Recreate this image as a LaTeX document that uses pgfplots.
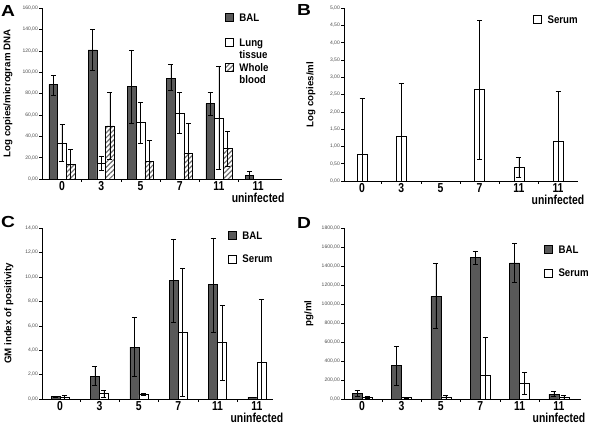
\documentclass[border=0pt]{standalone}
\usepackage{fontspec}
\setmainfont{Liberation Sans}
\newfontfamily\condfont[FakeStretch=0.8]{Liberation Sans}
\newfontfamily\legfont[FakeStretch=0.88]{Liberation Sans}
\newfontfamily\letterfont[FakeStretch=1.2]{Liberation Sans}
\usepackage{pgfplots}
\pgfplotsset{compat=1.18}
\usetikzlibrary{patterns.meta}

\pgfplotsset{
  panel/.style={
    scale only axis,
    anchor=south west,
    axis lines*=left,
    axis line style={black, line width=0.5pt},
    ymin=0,
    xtick={0,...,5},
    xticklabels={0,3,5,7,11,{11\\uninfected}},
    xticklabel style={align=center, font=\condfont\bfseries\fontsize{13}{12}\selectfont, inner sep=0pt, yshift=0.5pt},
    major x tick style={draw=none},
    minor xtick={0.5,1.5,2.5,3.5,4.5},
    minor x tick style={black, line width=0.4pt},
    minor tick length=3pt,
    tick align=outside,
    major tick length=3pt,
    y tick style={black, line width=0.4pt},
    yticklabel style={font=\fontsize{5}{6}\selectfont, color=black!70, inner sep=1pt},
    /pgf/number format/fixed,
    /pgf/number format/fixed zerofill,
    /pgf/number format/precision=2,
    /pgf/number format/use comma,
    /pgf/number format/1000 sep={},
    /pgf/number format/assume math mode=true,
    ylabel style={font=\bfseries\fontsize{9.7}{11}\selectfont, anchor=center},
    ybar=0pt,
    error bars/y dir=both,
    error bars/y explicit,
    error bars/error bar style={black, line width=0.5pt},
    error bars/error mark options={rotate=90, mark size=2.5pt, black, line width=0.5pt},
    legend style={draw=none, fill=none, inner sep=0pt, outer sep=0pt, anchor=north west,
      font=\legfont\bfseries\fontsize{11}{12.5}\selectfont, row sep=16.5pt, column sep=6pt,
      nodes={inner sep=0pt, text height=8pt, text depth=0pt},
      cells={anchor=base west}},
    legend image code/.code={\draw[#1] (0pt,0pt) rectangle (8pt,8pt);},
  },
  bal/.style={fill=black!65, draw=black, line width=0.5pt},
  wbar/.style={fill=white, draw=black, line width=0.5pt},
  hatch/.style={fill=white, draw=black, line width=0.5pt,
    postaction={pattern={Lines[angle=45,distance=3.5pt,line width=1.2pt]}, pattern color=black!55}},
}

\begin{document}
\begin{tikzpicture}
\useasboundingbox (0,0) rectangle (592pt,427pt);

% Panel A
\begin{axis}[panel, at={(42pt,248pt)}, width=240pt, height=171pt,
  xmin=-0.51, xmax=5.61, ymax=160, ytick={0,20,...,160}, bar width=8.7pt,
  ylabel={Log copies/microgram DNA},
  ylabel style={at={(axis description cs:-0.142,0.5)}},
  legend style={at={(axis description cs:0.7625,0.971)}}]
\addplot[bal] coordinates {
  (0,88.5) += (0,8.5) -= (0,9.9)
  (1,120.8) += (0,19.2) -= (0,19.4)
  (2,86.6) += (0,34.2) -= (0,34.2)
  (3,94.3) += (0,12.7) -= (0,11.4)
  (4,70.6) += (0,10.2) -= (0,10.8)
  (5,3.4) += (0,4.3) -= (0,3.4)
};
\addlegendentry{BAL}
\addplot[wbar] coordinates {
  (0,33.9) += (0,17.0) -= (0,16.9)
  (1,14.5) += (0,7.1) -= (0,6.5)
  (2,53.0) += (0,18.5) -= (0,19.4)
  (3,61.7) += (0,19.1) -= (0,18.9)
  (4,57.0) += (0,48.4) -= (0,48.0)
};
\addlegendentry{\begin{tabular}[t]{@{}l@{}}Lung\\tissue\end{tabular}}
\addplot[hatch] coordinates {
  (0,13.6) += (0,14.4) -= (0,13.6)
  (1,49.6) += (0,31.2) -= (0,31.4)
  (2,16.3) += (0,19.5) -= (0,16.3)
  (3,23.7) += (0,28.7) -= (0,23.7)
  (4,28.4) += (0,16.3) -= (0,16.1)
};
\addlegendentry{\begin{tabular}[t]{@{}l@{}}Whole\\blood\end{tabular}}
\end{axis}

% Panel B
\begin{axis}[panel, at={(344pt,246pt)}, width=234pt, height=173pt,
  xmin=-0.46, xmax=5.51, ymax=5, ytick={0,0.5,...,5}, bar width=10pt,
  ylabel={Log copies/ml},
  ylabel style={at={(axis description cs:-0.141,0.5)}},
  legend style={at={(axis description cs:0.808,0.96)}}]
\addplot[wbar] coordinates {
  (0,0.77) += (0,1.62) -= (0,0.77)
  (1,1.30) += (0,1.53) -= (0,1.30)
  (3,2.64) += (0,2.00) -= (0,2.00)
  (4,0.40) += (0,0.30) -= (0,0.30)
  (5,1.14) += (0,1.45) -= (0,1.14)
};
\addlegendentry{Serum}
\end{axis}

% Panel C
\begin{axis}[panel, at={(42pt,28pt)}, width=231pt, height=171pt,
  xmin=-0.46, xmax=5.41, ymax=14, ytick={0,2,...,14}, bar width=9pt,
  ylabel={GM index of positivity},
  ylabel style={at={(axis description cs:-0.143,0.5)}},
  legend style={at={(axis description cs:0.805,0.982)}, row sep=15pt}]
\addplot[bal] coordinates {
  (0,0.19) += (0,0.03) -= (0,0.03)
  (1,1.88) += (0,0.76) -= (0,0.79)
  (2,4.25) += (0,2.43) -= (0,2.42)
  (3,9.73) += (0,3.37) -= (0,3.46)
  (4,9.40) += (0,3.80) -= (0,3.90)
  (5,0.14) += (0,0.03) -= (0,0.03)
};
\addlegendentry{BAL}
\addplot[wbar] coordinates {
  (0,0.14) += (0,0.13) -= (0,0.14)
  (1,0.44) += (0,0.24) -= (0,0.30)
  (2,0.35) += (0,0.09) -= (0,0.08)
  (3,5.45) += (0,5.25) -= (0,5.26)
  (4,4.63) += (0,3.05) -= (0,3.08)
  (5,3.02) += (0,5.13) -= (0,3.02)
};
\addlegendentry{Serum}
\end{axis}

% Panel D
\begin{axis}[panel, at={(344pt,28pt)}, width=237pt, height=171pt,
  xmin=-0.46, xmax=5.56, ymax=1800, ytick={0,200,...,1800}, bar width=10pt,
  ylabel={pg/ml},
  ylabel style={at={(axis description cs:-0.148,0.5)}},
  legend style={at={(axis description cs:0.844,0.90)}, row sep=15pt}]
\addplot[bal] coordinates {
  (0,59) += (0,28) -= (0,31)
  (1,353) += (0,203) -= (0,210)
  (2,1081) += (0,346) -= (0,336)
  (3,1490) += (0,70) -= (0,74)
  (4,1434) += (0,203) -= (0,203)
  (5,52) += (0,28) -= (0,24)
};
\addlegendentry{BAL}
\addplot[wbar] coordinates {
  (0,17) += (0,11) -= (0,10)
  (1,14) += (0,4) -= (0,4)
  (2,21) += (0,17) -= (0,21)
  (3,252) += (0,398) -= (0,252)
  (4,161) += (0,119) -= (0,112)
  (5,17) += (0,21) -= (0,17)
};
\addlegendentry{Serum}
\end{axis}

% Panel letters
\node[anchor=base west, inner sep=0pt, font=\letterfont\bfseries\fontsize{16}{16}\selectfont] at (1pt,410pt) {A};
\node[anchor=base west, inner sep=0pt, font=\letterfont\bfseries\fontsize{16}{16}\selectfont] at (297pt,411pt) {B};
\node[anchor=base west, inner sep=0pt, font=\letterfont\bfseries\fontsize{16}{16}\selectfont] at (1pt,199pt) {C};
\node[anchor=base west, inner sep=0pt, font=\letterfont\bfseries\fontsize{16}{16}\selectfont] at (297pt,198pt) {D};
\end{tikzpicture}
\end{document}
